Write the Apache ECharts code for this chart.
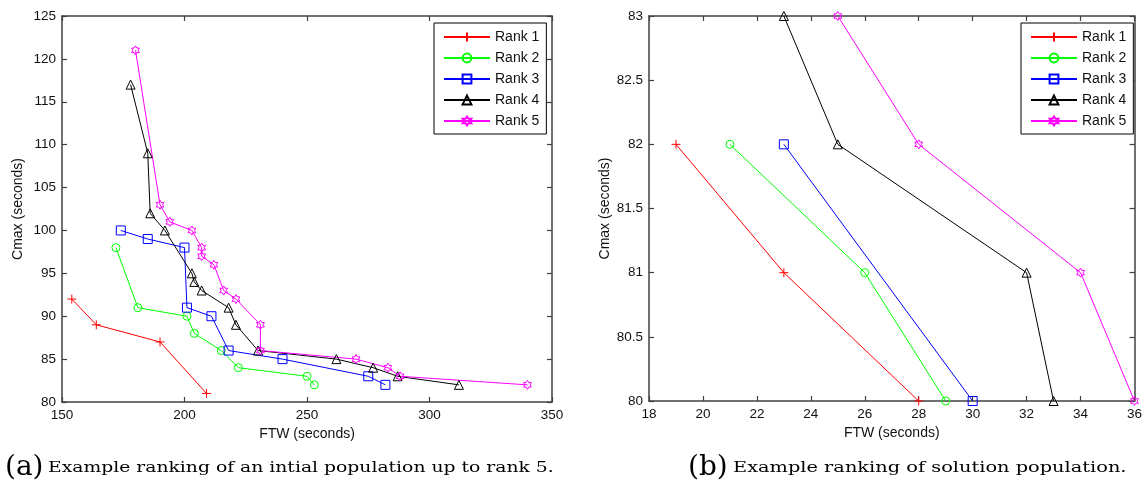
<!DOCTYPE html>
<html>
<head>
<meta charset="utf-8">
<script src="https://cdn.jsdelivr.net/npm/echarts@6/dist/echarts.min.js"></script>
<style>html,body{margin:0;padding:0;background:#fff}#c{width:1145px;height:489px}</style>
</head>
<body>
<div id="c"></div>
<script>
// ---- data ----
var seriesNames = ['Rank 1', 'Rank 2', 'Rank 3', 'Rank 4', 'Rank 5'];
// (a) initial population: [FTW, Cmax]
var rank1A = [[154,92],[164,89],[190,87],[209,81]];
var rank2A = [[172,98],[181,91],[201,90],[204,88],[215,86],[222,84],[250,83],[253,82]];
var rank3A = [[174,100],[185,99],[200,98],[201,91],[211,90],[218,86],[240,85],[275,83],[282,82]];
var rank4A = [[178,117],[185,109],[186,102],[192,100],[203,95],[204,94],[207,93],[218,91],[221,89],[230,86],[262,85],[277,84],[287,83],[312,82]];
var rank5A = [[180,121],[190,103],[194,101],[203,100],[207,98],[207,97],[212,96],[216,93],[221,92],[231,89],[231,86],[270,85],[283,84],[288,83],[340,82]];
// (b) solution population
var rank1B = [[19,82],[23,81],[28,80]];
var rank2B = [[21,82],[26,81],[29,80]];
var rank3B = [[23,82],[30,80]];
var rank4B = [[23,83],[25,82],[32,81],[33,80]];
var rank5B = [[25,83],[28,82],[34,81],[36,80]];
// axis ranges / ticks
var xTicksA = [150, 350, 50];
var yTicksA = [80, 125, 5];
var xTicksB = [18, 36, 2];
var yTicksB = [80, 83, 0.5];
var captionA = ['(a)', 'Example ranking of an intial population up to rank 5.'];
var captionB = ['(b)', 'Example ranking of solution population.'];
var xName = 'FTW (seconds)';
var yName = 'Cmax (seconds)';

// ---- styling ----
var colors = ['#ff0000', '#00ff00', '#0000ff', '#000000', '#ff00ff'];
var symbols = [
  'path://M5,0 L5,10 M0,5 L10,5',
  'circle',
  'rect',
  'triangle',
  'path://M5,0 L6.443,2.5 L9.33,2.5 L7.887,5 L9.33,7.5 L6.443,7.5 L5,10 L3.557,7.5 L0.67,7.5 L2.113,5 L0.67,2.5 L3.557,2.5 Z'
];
var symSizes = [9, 8, 9, 9, 9];
var font = 'Liberation Sans, Arial, sans-serif';
var axisColor = '#404040';

function mkX(gi, r, pos, labels) {
  return {
    type: 'value', gridIndex: gi, position: pos, min: r[0], max: r[1], interval: r[2],
    axisLine: {show: true, onZero: false, lineStyle: {color: axisColor, width: 1.5}},
    axisTick: {show: true, inside: true, length: 5, lineStyle: {color: axisColor, width: 1.2}},
    axisLabel: {show: labels, color: '#111', fontFamily: font, fontSize: 13.5, margin: 6},
    splitLine: {show: false},
    name: labels ? xName : '', nameLocation: 'middle', nameGap: 23,
    nameTextStyle: {color: '#111', fontFamily: font, fontSize: 14}
  };
}
function mkY(gi, r, pos, labels) {
  return {
    type: 'value', gridIndex: gi, position: pos, min: r[0], max: r[1], interval: r[2],
    axisLine: {show: true, onZero: false, lineStyle: {color: axisColor, width: 1.5}},
    axisTick: {show: true, inside: true, length: 5, lineStyle: {color: axisColor, width: 1.2}},
    axisLabel: {show: labels, color: '#111', fontFamily: font, fontSize: 13.5, margin: 6},
    splitLine: {show: false},
    name: labels ? yName : '', nameLocation: 'middle', nameGap: 37, nameRotate: 90,
    nameTextStyle: {color: '#111', fontFamily: font, fontSize: 14}
  };
}
function mkSeries(data, i, xi, yi) {
  return {
    type: 'line', name: seriesNames[i], data: data, xAxisIndex: xi, yAxisIndex: yi,
    symbol: symbols[i], symbolSize: symSizes[i], symbolKeepAspect: true, showSymbol: true,
    clip: false, animation: false,
    lineStyle: {color: colors[i], width: 1},
    itemStyle: {color: 'rgba(255,255,255,0)', borderColor: colors[i], borderWidth: 1},
    emphasis: {disabled: true}
  };
}
function mkLegend(left) {
  return {
    left: left, top: 23, orient: 'vertical', data: seriesNames,
    backgroundColor: '#fff', borderColor: '#000', borderWidth: 1, borderRadius: 0,
    padding: [7, 7, 6, 9], itemGap: 7, itemWidth: 46, itemHeight: 11,
    textStyle: {color: '#111', fontFamily: font, fontSize: 14, lineHeight: 14, padding: [0, 0, 0, 0]},
    selectedMode: false
  };
}

var series = [];
[rank1A, rank2A, rank3A, rank4A, rank5A].forEach(function (d, i) { series.push(mkSeries(d, i, 0, 0)); });
[rank1B, rank2B, rank3B, rank4B, rank5B].forEach(function (d, i) { series.push(mkSeries(d, i, 2, 2)); });

var capFont = 'DejaVu Serif, serif';
var option = {
  backgroundColor: '#fff',
  animation: false,
  grid: [
    {left: 62, top: 16, width: 490, height: 386},
    {left: 649, top: 16, width: 489, height: 385}
  ],
  xAxis: [mkX(0, xTicksA, 'bottom', true), mkX(0, xTicksA, 'top', false),
          mkX(1, xTicksB, 'bottom', true), mkX(1, xTicksB, 'top', false)],
  yAxis: [mkY(0, yTicksA, 'left', true), mkY(0, yTicksA, 'right', false),
          mkY(1, yTicksB, 'left', true), mkY(1, yTicksB, 'right', false)],
  legend: [mkLegend(434), mkLegend(1021)],
  series: series,
  graphic: [
    {type: 'text', x: 5, y: 454, style: {text: captionA[0], font: '28px ' + capFont, fill: '#000'}},
    {type: 'text', x: 48, y: 461, scaleX: 1.25, style: {text: captionA[1], font: '15px ' + capFont, fill: '#000'}},
    {type: 'text', x: 688, y: 454, style: {text: captionB[0], font: '28px ' + capFont, fill: '#000'}},
    {type: 'text', x: 733, y: 461, scaleX: 1.29, style: {text: captionB[1], font: '15px ' + capFont, fill: '#000'}}
  ]
};
var chart = echarts.init(document.getElementById('c'), null, {renderer: 'canvas'});
chart.setOption(option);
</script>
</body>
</html>
